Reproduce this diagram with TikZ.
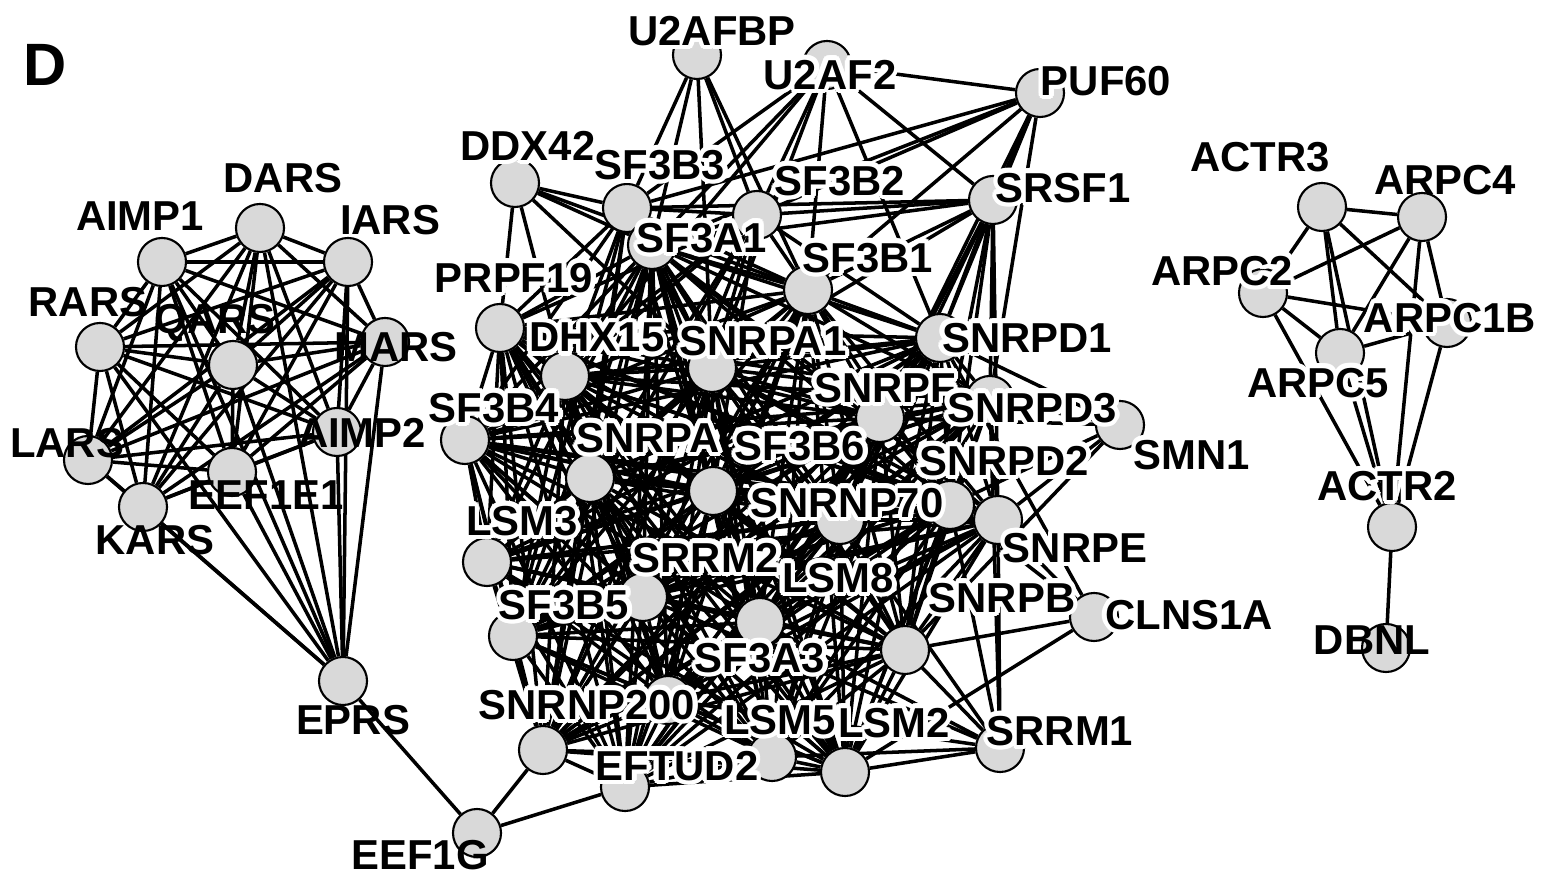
\documentclass[tikz,border=0pt]{standalone}
\usepackage{fontspec}
\setmainfont{Liberation Sans}
\usepackage{contour}
\contourlength{1.3pt}
\usetikzlibrary{backgrounds}

\begin{document}
\begin{tikzpicture}[x=0.01cm,y=-0.01cm,
  gene/.style={circle,draw,line width=0.6pt,fill=gray!30,inner sep=0pt,minimum size=0.48cm},
  tag/.style={font=\bfseries\fontsize{11.9}{12}\selectfont,inner sep=0pt},
  link/.style={every edge/.style={draw,line width=1pt}}]
\useasboundingbox (0,0) rectangle (1543,883);
\node[tag,font=\bfseries\fontsize{17}{17}\selectfont] (panel) at (45,65) {D};

% synthetase complex
\node[gene] (DARS) at (260,228) {};
\node[gene] (AIMP1) at (162,262) {};
\node[gene] (IARS) at (348,262) {};
\node[gene] (RARS) at (100,347) {};
\node[gene] (QARS) at (233,365) {};
\node[gene] (MARS) at (385,342) {};
\node[gene] (LARS) at (88,460) {};
\node[gene] (AIMP2) at (337,432) {};
\node[gene] (EEF1E1) at (232,472) {};
\node[gene] (KARS) at (143,507) {};
\node[gene] (EPRS) at (343,681) {};
\node[gene] (EEF1G) at (477,833) {};

% spliceosome
\node[gene] (U2AFBP) at (697,55) {};
\node[gene] (U2AF2) at (827,65) {};
\node[gene] (PUF60) at (1040,93) {};
\node[gene] (DDX42) at (515,183) {};
\node[gene] (SF3B3) at (627,208) {};
\node[gene] (SF3B2) at (757,215) {};
\node[gene] (SRSF1) at (993,200) {};
\node[gene] (SF3A1) at (652,245) {};
\node[gene] (SF3B1) at (808,290) {};
\node[gene] (PRPF19) at (500,328) {};
\node[gene] (DHX15) at (565,376) {};
\node[gene] (SNRPA1) at (712,368) {};
\node[gene] (SNRPD1) at (940,338) {};
\node[gene] (SNRPF) at (880,418) {};
\node[gene] (SNRPD3) at (990,400) {};
\node[gene] (SMN1) at (1120,425) {};
\node[gene] (SF3B4) at (465,440) {};
\node[gene] (SNRPA) at (590,478) {};
\node[gene] (SF3B6) at (713,491) {};
\node[gene] (SNRPD2) at (950,505) {};
\node[gene] (SNRNP70) at (840,520) {};
\node[gene] (SNRPE) at (998,520) {};
\node[gene] (LSM3) at (487,562) {};
\node[gene] (SRRM2) at (643,597) {};
\node[gene] (LSM8) at (760,622) {};
\node[gene] (SF3B5) at (513,636) {};
\node[gene] (SNRPB) at (905,650) {};
\node[gene] (CLNS1A) at (1094,617) {};
\node[gene] (SF3A3) at (668,700) {};
\node[gene] (SNRNP200) at (543,750) {};
\node[gene] (LSM5) at (772,757) {};
\node[gene] (LSM2) at (845,772) {};
\node[gene] (SRRM1) at (1000,748) {};
\node[gene] (EFTUD2) at (625,787) {};

% Arp2/3 complex
\node[gene] (ACTR3) at (1322,207) {};
\node[gene] (ARPC4) at (1422,217) {};
\node[gene] (ARPC2) at (1263,293) {};
\node[gene] (ARPC1B) at (1447,323) {};
\node[gene] (ARPC5) at (1340,353) {};
\node[gene] (ACTR2) at (1392,527) {};
\node[gene] (DBNL) at (1386,648) {};

\begin{scope}[on background layer]
\path[link] (DARS) edge (AIMP1) edge (IARS) edge (RARS) edge (QARS) edge (MARS) edge (LARS) edge (AIMP2) edge (EEF1E1) edge (KARS) edge (EPRS);
\path[link] (AIMP1) edge (IARS) edge (RARS) edge (QARS) edge (MARS) edge (LARS) edge (AIMP2) edge (EEF1E1) edge (KARS) edge (EPRS);
\path[link] (IARS) edge (RARS) edge (QARS) edge (MARS) edge (LARS) edge (AIMP2) edge (EEF1E1) edge (KARS) edge (EPRS);
\path[link] (RARS) edge (QARS) edge (MARS) edge (LARS) edge (AIMP2) edge (EEF1E1) edge (KARS) edge (EPRS);
\path[link] (QARS) edge (MARS) edge (LARS) edge (AIMP2) edge (EEF1E1) edge (KARS) edge (EPRS);
\path[link] (MARS) edge (LARS) edge (AIMP2) edge (EEF1E1) edge (KARS) edge (EPRS);
\path[link] (LARS) edge (AIMP2) edge (EEF1E1) edge (KARS) edge (EPRS);
\path[link] (AIMP2) edge (EEF1E1) edge (KARS) edge (EPRS);
\path[link] (EEF1E1) edge (KARS) edge (EPRS);
\path[link] (KARS) edge (EPRS);
\path[link] (EEF1G) edge (EPRS) edge (SNRNP200) edge (EFTUD2);

\path[link] (U2AFBP) edge (SF3B3) edge (SF3A1) edge (SF3B2) edge (SF3B1) edge (SNRPA1);
\path[link] (U2AF2) edge (PUF60) edge (SF3B3) edge (SF3A1) edge (SF3B2) edge (SF3B1) edge (SRSF1) edge (SNRPA1) edge (DHX15) edge (SNRPD1);
\path[link] (PUF60) edge (SF3B3) edge (SF3A1) edge (SF3B2) edge (SF3B1) edge (SRSF1) edge (SNRPD1) edge (SNRPD3) edge (SNRPF);
\path[link] (SRSF1) edge (SF3B3) edge (SF3A1) edge (SF3B2) edge (SF3B1) edge (SNRPD1) edge (SNRPD3) edge (SNRPF) edge (SNRPD2) edge (SNRPA1) edge (SNRNP70) edge (SNRPE) edge (SNRPB);
\path[link] (DDX42) edge (PRPF19) edge (SF3B3) edge (SF3A1) edge (DHX15) edge (SNRPA1) edge (SF3B1);
\path[link] (SF3B3) edge (SF3A1) edge (SF3B2) edge (SF3B1) edge (PRPF19) edge (DHX15) edge (SNRPA1) edge (SF3B4) edge (SNRPA) edge (SF3B6) edge (SNRNP200) edge (SF3B5);
\path[link] (SF3B2) edge (SF3A1) edge (SF3B1) edge (SNRPA1) edge (DHX15) edge (SF3B4) edge (SNRPA) edge (SF3B6) edge (SF3B5) edge (SNRNP200) edge (SNRPD1) edge (PRPF19);
\path[link] (SMN1) edge (SNRPD1) edge (SNRPD3) edge (SNRPD2) edge (SNRPE) edge (SNRPB) edge (SNRPF);
\path[link] (CLNS1A) edge (SNRPE) edge (SNRPD2) edge (SNRPB) edge (LSM2) edge (SNRPD1);
\path[link] (SRRM1) edge (SNRPE) edge (SNRPD2) edge (SNRPD3) edge (SNRPB) edge (LSM2) edge (LSM5) edge (SNRNP70) edge (SRRM2) edge (LSM8) edge (SF3A3);

\path[link] (SF3A1) edge (SF3B1) edge (PRPF19) edge (DHX15) edge (SNRPA1) edge (SNRPD1) edge (SNRPF) edge (SNRPD3) edge (SF3B4) edge (SNRPA) edge (SF3B6) edge (SNRPD2) edge (SNRNP70) edge (SNRPE) edge (LSM3) edge (SRRM2) edge (LSM8) edge (SF3B5) edge (SNRPB) edge (SF3A3) edge (SNRNP200) edge (LSM5) edge (LSM2) edge (EFTUD2);
\path[link] (SF3B1) edge (PRPF19) edge (DHX15) edge (SNRPA1) edge (SNRPD1) edge (SNRPF) edge (SNRPD3) edge (SF3B4) edge (SNRPA) edge (SF3B6) edge (SNRPD2) edge (SNRNP70) edge (SNRPE) edge (LSM3) edge (SRRM2) edge (LSM8) edge (SF3B5) edge (SNRPB) edge (SF3A3) edge (SNRNP200) edge (LSM5) edge (LSM2) edge (EFTUD2);
\path[link] (PRPF19) edge (DHX15) edge (SNRPA1) edge (SNRPD1) edge (SNRPF) edge (SNRPD3) edge (SF3B4) edge (SNRPA) edge (SF3B6) edge (SNRPD2) edge (SNRNP70) edge (SNRPE) edge (LSM3) edge (SRRM2) edge (LSM8) edge (SF3B5) edge (SNRPB) edge (SF3A3) edge (SNRNP200) edge (LSM5) edge (LSM2) edge (EFTUD2);
\path[link] (DHX15) edge (SNRPA1) edge (SNRPD1) edge (SNRPF) edge (SNRPD3) edge (SF3B4) edge (SNRPA) edge (SF3B6) edge (SNRPD2) edge (SNRNP70) edge (SNRPE) edge (LSM3) edge (SRRM2) edge (LSM8) edge (SF3B5) edge (SNRPB) edge (SF3A3) edge (SNRNP200) edge (LSM5) edge (LSM2) edge (EFTUD2);
\path[link] (SNRPA1) edge (SNRPD1) edge (SNRPF) edge (SNRPD3) edge (SF3B4) edge (SNRPA) edge (SF3B6) edge (SNRPD2) edge (SNRNP70) edge (SNRPE) edge (LSM3) edge (SRRM2) edge (LSM8) edge (SF3B5) edge (SNRPB) edge (SF3A3) edge (SNRNP200) edge (LSM5) edge (LSM2) edge (EFTUD2);
\path[link] (SNRPD1) edge (SNRPF) edge (SNRPD3) edge (SF3B4) edge (SNRPA) edge (SF3B6) edge (SNRPD2) edge (SNRNP70) edge (SNRPE) edge (LSM3) edge (SRRM2) edge (LSM8) edge (SF3B5) edge (SNRPB) edge (SF3A3) edge (SNRNP200) edge (LSM5) edge (LSM2) edge (EFTUD2);
\path[link] (SNRPF) edge (SNRPD3) edge (SF3B4) edge (SNRPA) edge (SF3B6) edge (SNRPD2) edge (SNRNP70) edge (SNRPE) edge (LSM3) edge (SRRM2) edge (LSM8) edge (SF3B5) edge (SNRPB) edge (SF3A3) edge (SNRNP200) edge (LSM5) edge (LSM2) edge (EFTUD2);
\path[link] (SNRPD3) edge (SF3B4) edge (SNRPA) edge (SF3B6) edge (SNRPD2) edge (SNRNP70) edge (SNRPE) edge (LSM3) edge (SRRM2) edge (LSM8) edge (SF3B5) edge (SNRPB) edge (SF3A3) edge (SNRNP200) edge (LSM5) edge (LSM2) edge (EFTUD2);
\path[link] (SF3B4) edge (SNRPA) edge (SF3B6) edge (SNRPD2) edge (SNRNP70) edge (SNRPE) edge (LSM3) edge (SRRM2) edge (LSM8) edge (SF3B5) edge (SNRPB) edge (SF3A3) edge (SNRNP200) edge (LSM5) edge (LSM2) edge (EFTUD2);
\path[link] (SNRPA) edge (SF3B6) edge (SNRPD2) edge (SNRNP70) edge (SNRPE) edge (LSM3) edge (SRRM2) edge (LSM8) edge (SF3B5) edge (SNRPB) edge (SF3A3) edge (SNRNP200) edge (LSM5) edge (LSM2) edge (EFTUD2);
\path[link] (SF3B6) edge (SNRPD2) edge (SNRNP70) edge (SNRPE) edge (LSM3) edge (SRRM2) edge (LSM8) edge (SF3B5) edge (SNRPB) edge (SF3A3) edge (SNRNP200) edge (LSM5) edge (LSM2) edge (EFTUD2);
\path[link] (SNRPD2) edge (SNRNP70) edge (SNRPE) edge (LSM3) edge (SRRM2) edge (LSM8) edge (SF3B5) edge (SNRPB) edge (SF3A3) edge (SNRNP200) edge (LSM5) edge (LSM2) edge (EFTUD2);
\path[link] (SNRNP70) edge (SNRPE) edge (LSM3) edge (SRRM2) edge (LSM8) edge (SF3B5) edge (SNRPB) edge (SF3A3) edge (SNRNP200) edge (LSM5) edge (LSM2) edge (EFTUD2);
\path[link] (SNRPE) edge (LSM3) edge (SRRM2) edge (LSM8) edge (SF3B5) edge (SNRPB) edge (SF3A3) edge (SNRNP200) edge (LSM5) edge (LSM2) edge (EFTUD2);
\path[link] (LSM3) edge (SRRM2) edge (LSM8) edge (SF3B5) edge (SNRPB) edge (SF3A3) edge (SNRNP200) edge (LSM5) edge (LSM2) edge (EFTUD2);
\path[link] (SRRM2) edge (LSM8) edge (SF3B5) edge (SNRPB) edge (SF3A3) edge (SNRNP200) edge (LSM5) edge (LSM2) edge (EFTUD2);
\path[link] (LSM8) edge (SF3B5) edge (SNRPB) edge (SF3A3) edge (SNRNP200) edge (LSM5) edge (LSM2) edge (EFTUD2);
\path[link] (SF3B5) edge (SNRPB) edge (SF3A3) edge (SNRNP200) edge (LSM5) edge (LSM2) edge (EFTUD2);
\path[link] (SNRPB) edge (SF3A3) edge (SNRNP200) edge (LSM5) edge (LSM2) edge (EFTUD2);
\path[link] (SF3A3) edge (SNRNP200) edge (LSM5) edge (LSM2) edge (EFTUD2);
\path[link] (SNRNP200) edge (LSM5) edge (LSM2) edge (EFTUD2);
\path[link] (LSM5) edge (LSM2) edge (EFTUD2);
\path[link] (LSM2) edge (EFTUD2);

\path[link] (ACTR3) edge (ARPC4) edge (ARPC2) edge (ARPC1B) edge (ARPC5) edge (ACTR2);
\path[link] (ARPC4) edge (ARPC2) edge (ARPC1B) edge (ARPC5) edge (ACTR2);
\path[link] (ARPC2) edge (ARPC1B) edge (ARPC5) edge (ACTR2);
\path[link] (ARPC1B) edge (ARPC5) edge (ACTR2);
\path[link] (ARPC5) edge (ACTR2);
\path[link] (ACTR2) edge (DBNL);
\end{scope}

% labels
\node[tag] (DARS-t) at (283,178) {DARS};
\node[tag] (AIMP1-t) at (140,216) {AIMP1};
\node[tag] (IARS-t) at (390,220) {IARS};
\node[tag] (RARS-t) at (88,302) {RARS};
\node[tag] (QARS-t) at (215,323) {QARS};
\node[tag] (MARS-t) at (396,347) {MARS};
\node[tag] (LARS-t) at (67,443) {LARS};
\node[tag] (AIMP2-t) at (362,433) {AIMP2};
\node[tag] (EEF1E1-t) at (266,495) {EEF1E1};
\node[tag] (KARS-t) at (155,540) {KARS};
\node[tag] (EPRS-t) at (353,720) {EPRS};
\node[tag] (EEF1G-t) at (420,855) {EEF1G};

\node[tag] (U2AFBP-t) at (712,33) {\contour{white}{U2AFBP}};
\node[tag] (U2AF2-t) at (830,77) {\contour{white}{U2AF2}};
\node[tag] (PUF60-t) at (1106,83) {\contour{white}{PUF60}};
\node[tag] (DDX42-t) at (528,148) {\contour{white}{DDX42}};
\node[tag] (SF3B3-t) at (660,167) {\contour{white}{SF3B3}};
\node[tag] (SF3B2-t) at (840,183) {\contour{white}{SF3B2}};
\node[tag] (SRSF1-t) at (1063,190) {\contour{white}{SRSF1}};
\node[tag] (SF3A1-t) at (702,240) {\contour{white}{SF3A1}};
\node[tag] (SF3B1-t) at (868,260) {\contour{white}{SF3B1}};
\node[tag] (PRPF19-t) at (514,280) {\contour{white}{PRPF19}};
\node[tag] (DHX15-t) at (597,340) {\contour{white}{DHX15}};
\node[tag] (SNRPA1-t) at (763,343) {\contour{white}{SNRPA1}};
\node[tag] (SNRPD1-t) at (1027,340) {\contour{white}{SNRPD1}};
\node[tag] (SNRPF-t) at (885,390) {\contour{white}{SNRPF}};
\node[tag] (SF3B4-t) at (494,410) {\contour{white}{SF3B4}};
\node[tag] (SNRPD3-t) at (1032,410) {\contour{white}{SNRPD3}};
\node[tag] (SMN1-t) at (1192,457) {\contour{white}{SMN1}};
\node[tag] (SNRPA-t) at (648,440) {\contour{white}{SNRPA}};
\node[tag] (SF3B6-t) at (800,448) {\contour{white}{SF3B6}};
\node[tag] (SNRPD2-t) at (1004,463) {\contour{white}{SNRPD2}};
\node[tag] (SNRNP70-t) at (847,505) {\contour{white}{SNRNP70}};
\node[tag] (LSM3-t) at (522,523) {\contour{white}{LSM3}};
\node[tag] (SNRPE-t) at (1075,550) {\contour{white}{SNRPE}};
\node[tag] (SRRM2-t) at (706,560) {\contour{white}{SRRM2}};
\node[tag] (LSM8-t) at (838,580) {\contour{white}{LSM8}};
\node[tag] (SF3B5-t) at (564,607) {\contour{white}{SF3B5}};
\node[tag] (SNRPB-t) at (1002,600) {\contour{white}{SNRPB}};
\node[tag] (CLNS1A-t) at (1189,617) {\contour{white}{CLNS1A}};
\node[tag] (SF3A3-t) at (760,660) {\contour{white}{SF3A3}};
\node[tag] (SNRNP200-t) at (587,707) {\contour{white}{SNRNP200}};
\node[tag] (LSM5-t) at (780,722) {\contour{white}{LSM5}};
\node[tag] (LSM2-t) at (894,725) {\contour{white}{LSM2}};
\node[tag] (SRRM1-t) at (1060,733) {\contour{white}{SRRM1}};
\node[tag] (EFTUD2-t) at (677,768) {\contour{white}{EFTUD2}};

\node[tag] (ACTR3-t) at (1260,157) {ACTR3};
\node[tag] (ARPC4-t) at (1445,180) {ARPC4};
\node[tag] (ARPC2-t) at (1222,273) {\contour{white}{ARPC2}};
\node[tag] (ARPC1B-t) at (1450,320) {\contour{white}{ARPC1B}};
\node[tag] (ARPC5-t) at (1318,385) {\contour{white}{ARPC5}};
\node[tag] (ACTR2-t) at (1387,488) {\contour{white}{ACTR2}};
\node[tag] (DBNL-t) at (1372,640) {DBNL};
\end{tikzpicture}
\end{document}
